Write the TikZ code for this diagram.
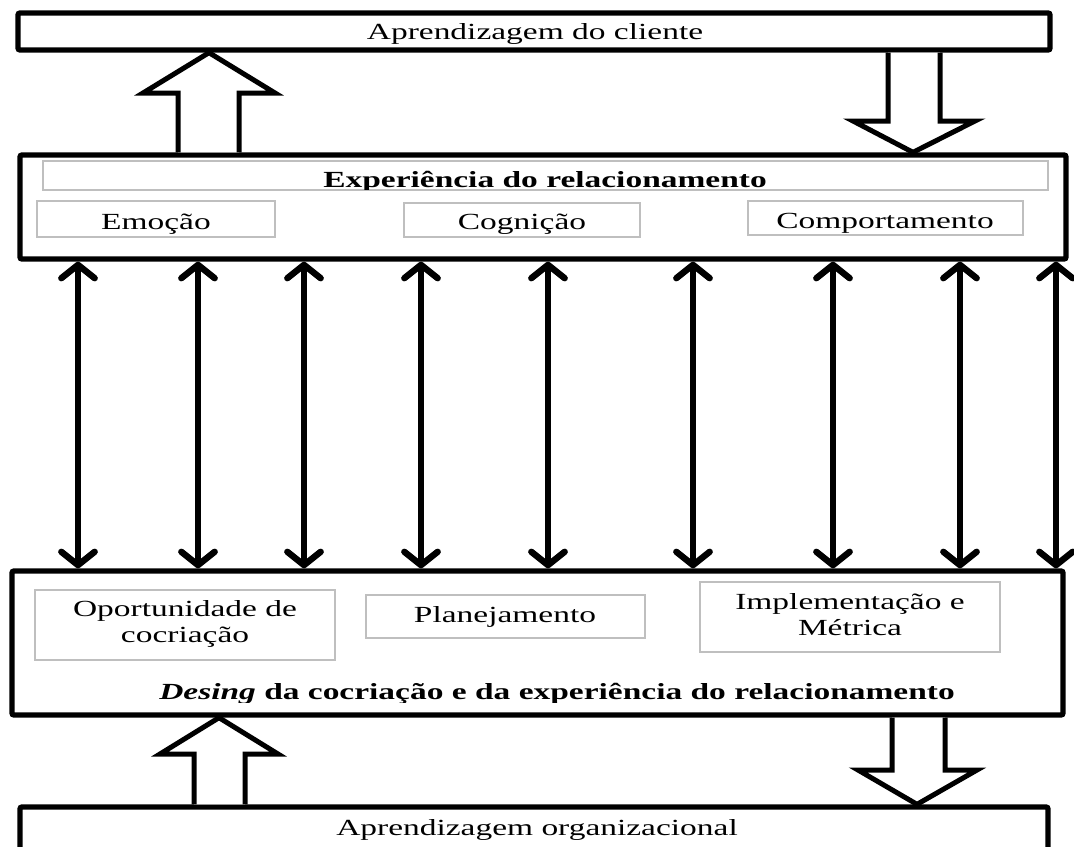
\documentclass[tikz,border=0pt]{standalone}
\usepackage{fontspec}
\setmainfont{Liberation Serif}[FakeStretch=1.45]
\usetikzlibrary{arrows.meta}
\newdimen\pxu \pxu=0.75pt

\begin{document}
\begin{tikzpicture}[x=0.75pt,y=-0.75pt,
  frame/.style={draw=black, line width=4pt, fill=white, rounded corners=1.5pt, inner sep=0pt},
  sub/.style={draw=black!25, line width=1.6pt, fill=white, inner sep=0pt},
  txt/.style={anchor=base, inner sep=0pt, align=center,
    font=\fontsize{17.3pt}{18.8pt}\selectfont},
  ttl/.style={txt, font=\fontsize{17.3pt}{18.8pt}\selectfont\bfseries},
  hollow/.style={draw=black, fill=white, line width=3.75pt, line join=miter, miter limit=10},
  barb/.tip={Straight Barb[length=10pt,width=25pt,round]},
  link/.style={line width=4.8pt, barb-barb}
]
% canvas
\clip (0,0) rectangle (1074,846);
\fill[white] (0,0) rectangle (1074,846);

% outer frames
\node[frame, minimum width=1032\pxu, minimum height=37\pxu] (top) at (534,31.5) {};
\node[frame, minimum width=1046\pxu, minimum height=104\pxu] (mid) at (543,207) {};
\node[frame, minimum width=1051\pxu, minimum height=144\pxu] (des) at (537.5,643) {};
\node[frame, minimum width=1028\pxu, minimum height=73\pxu] (bot) at (534,843.5) {};

% inner boxes of the relationship experience
\node[sub, minimum width=1005\pxu, minimum height=29\pxu] (expbox) at (545.5,175.5) {};
\node[sub, minimum width=238\pxu, minimum height=36\pxu] (emobox) at (156,219) {};
\node[sub, minimum width=236\pxu, minimum height=34\pxu] (cogbox) at (522,220) {};
\node[sub, minimum width=275\pxu, minimum height=34\pxu] (combox) at (885.5,218) {};

% inner boxes of the design
\node[sub, minimum width=300\pxu, minimum height=70\pxu] (opbox) at (185,625) {};
\node[sub, minimum width=279\pxu, minimum height=43\pxu] (plbox) at (505.5,616.5) {};
\node[sub, minimum width=300\pxu, minimum height=70\pxu] (imbox) at (850,617) {};

% labels (two-line labels sit on the baseline of their last line)
\node[txt] (tcli) at (535,39) {Aprendizagem do cliente};
\begin{scope}
  \clip (43,150) rectangle (1048,189);
  \node[ttl] (texp) at (545,187) {Experiência do relacionamento};
\end{scope}
\node[txt] (temo) at (156,229) {Emoção};
\node[txt] (tcog) at (522,229) {Cognição};
\node[txt] (tcom) at (885,228) {Comportamento};
\node[txt] (top1) at (185,642) {Oportunidade de\\cocriação};
\node[txt] (tpla) at (505,622) {Planejamento};
\node[txt] (timp) at (850,635) {Implementação e\\Métrica};
\begin{scope}
  \clip (20,660) rectangle (1060,702);
  \node[ttl] (tdes) at (557,699) {{\itshape Desing} da cocriação e da experiência do relacionamento};
\end{scope}
\node[txt] (torg) at (537,835) {Aprendizagem organizacional};

% block arrows between the levels
\draw[hollow] (178,0 |- mid.north) -- (178,93) -- (143,93) -- (209,0 |- top.south)
  -- (275,93) -- (239,93) -- (239,0 |- mid.north);
\draw[hollow] (888,0 |- top.south) -- (888,121) -- (853,121) -- (913,0 |- mid.north)
  -- (975,121) -- (940,121) -- (940,0 |- top.south);
\draw[hollow] (194,0 |- bot.north) -- (194,754) -- (160,754) -- (219,0 |- des.south)
  -- (278,754) -- (245,754) -- (245,0 |- bot.north);
\draw[hollow] (892,0 |- des.south) -- (892,770) -- (858,770) -- (917,0 |- bot.north)
  -- (977,770) -- (945,770) -- (945,0 |- des.south);

% two-way links between experience and design
\foreach \xx in {78,198,304,421,548,693,833,960,1056}
  \draw[link] (\xx,0 |- mid.south) -- (\xx,0 |- des.north);
\end{tikzpicture}
\end{document}
